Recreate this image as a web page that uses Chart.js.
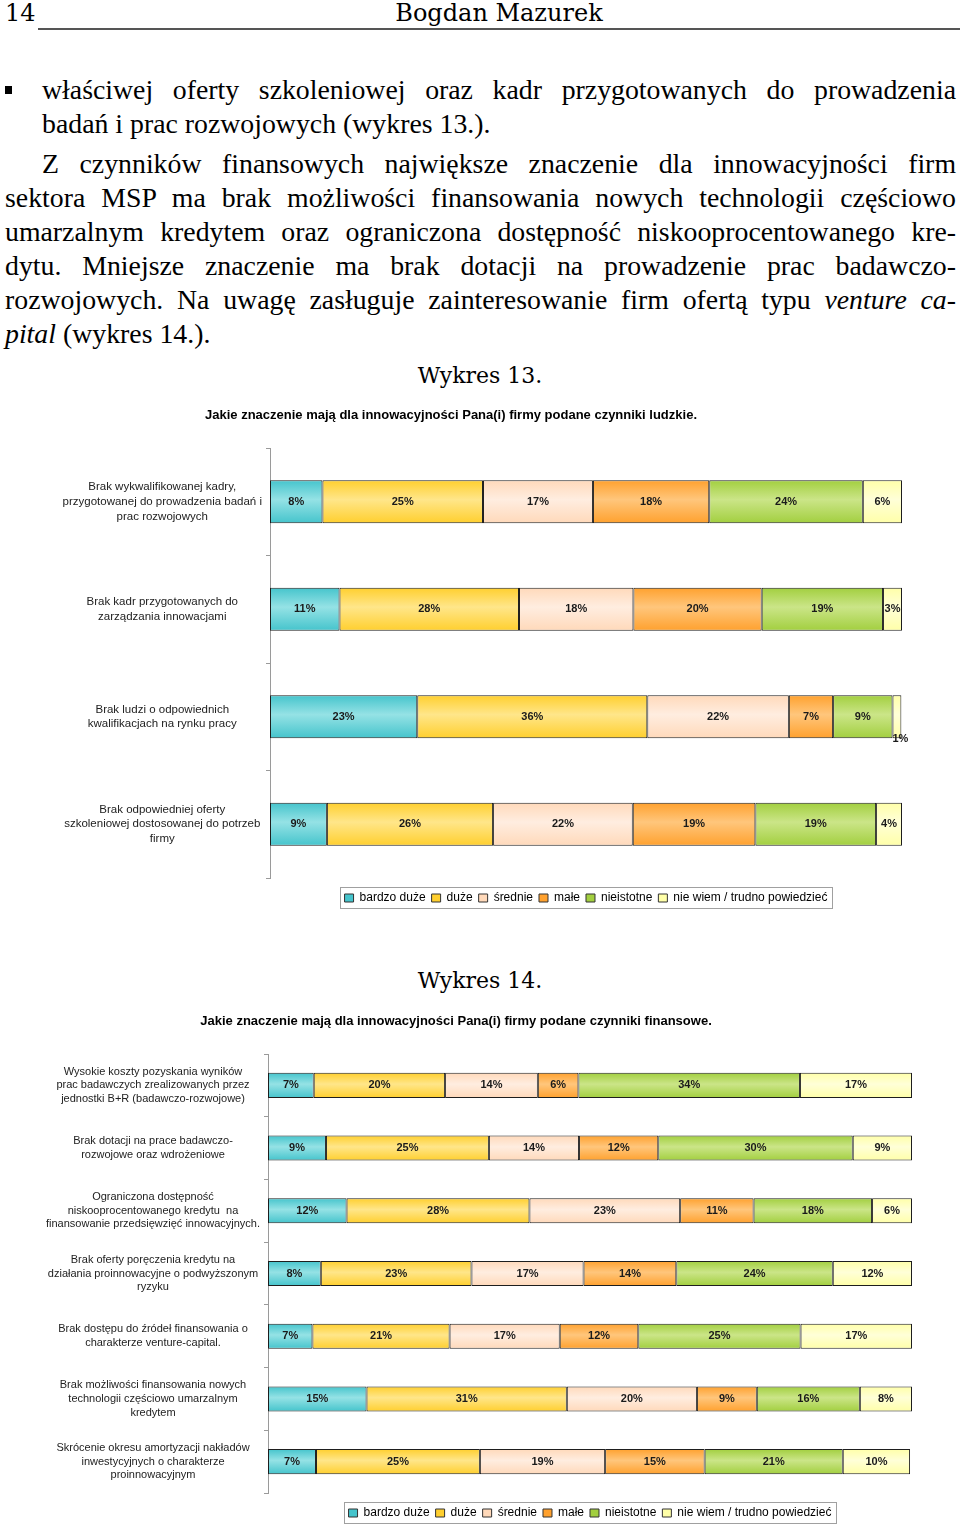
<!DOCTYPE html>
<html lang="pl">
<head>
<meta charset="utf-8">
<title>Wykres 13 i 14</title>
<script src="https://cdn.jsdelivr.net/npm/chart.js@4.4.1/dist/chart.umd.min.js"></script>
<style>
html, body { margin: 0; padding: 0; background: #fff; overflow: hidden; }
body { position: relative; width: 960px; height: 1525px; font-family: "DejaVu Serif", serif; color: #000; }
.head { position: absolute; top: -2px; font-size: 24px; line-height: 30px; }
.rule { position: absolute; left: 38px; top: 28px; width: 922px; height: 2px; background: #555; }
.line { position: absolute; font-family: "Liberation Serif", "Times New Roman", serif; font-size: 27.8px; line-height: 34px; height: 34px; white-space: nowrap; }
.just { text-align: justify; text-align-last: justify; }
.bullet { position: absolute; left: 5px; top: 86px; width: 7px; height: 8px; background: #000; }
.wykres { position: absolute; left: 0; width: 960px; text-align: center; font-size: 22px; line-height: 30px; }
canvas { position: absolute; left: 0; }
</style>
</head>
<body>

<div class="head" style="left:5px;">14</div>
<div class="head" style="left:38px; width:922px; text-align:center;">Bogdan Mazurek</div>
<div class="rule"></div>

<div class="bullet"></div>
<div class="line just" style="left:42px; width:914px; top:73px;">właściwej oferty szkoleniowej oraz kadr przygotowanych do prowadzenia</div>
<div class="line" style="left:42px; top:107px;">badań i prac rozwojowych (wykres 13.).</div>
<div class="line just" style="left:42px; width:914px; top:147px;">Z czynników finansowych największe znaczenie dla innowacyjności firm</div>
<div class="line just" style="left:5px; width:951px; top:181px;">sektora MSP ma brak możliwości finansowania nowych technologii częściowo</div>
<div class="line just" style="left:5px; width:951px; top:215px;">umarzalnym kredytem oraz ograniczona dostępność niskooprocentowanego kre-</div>
<div class="line just" style="left:5px; width:951px; top:249px;">dytu. Mniejsze znaczenie ma brak dotacji na prowadzenie prac badawczo-</div>
<div class="line just" style="left:5px; width:951px; top:283px;">rozwojowych. Na uwagę zasługuje zainteresowanie firm ofertą typu <i>venture ca-</i></div>
<div class="line" style="left:5px; top:317px;"><i>pital</i> (wykres 14.).</div>

<div class="wykres" style="top:361px;">Wykres 13.</div>
<canvas id="chartHuman" width="960" height="515" style="top:400px;"></canvas>

<div class="wykres" style="top:966px;">Wykres 14.</div>
<canvas id="chartFinance" width="960" height="524" style="top:1005px;"></canvas>

<script>
var seriesNames = ['bardzo duże', 'duże', 'średnie', 'małe', 'nieistotne', 'nie wiem / trudno powiedzieć'];
var seriesColors = ['#45C4CC', '#FFCF2E', '#FFD9BA', '#FFA12E', '#A2CF3F', '#FFFFA8'];
var seriesHighlights = ['#95E2E5', '#FFE68A', '#FFEDE0', '#FFC67C', '#CBE588', '#FFFFD8'];

// Wykres 13 - czynniki ludzkie
var humanCategories = [
    ['Brak wykwalifikowanej kadry,', 'przygotowanej do prowadzenia badań i', 'prac rozwojowych'],
    ['Brak kadr przygotowanych do', 'zarządzania innowacjami'],
    ['Brak ludzi o odpowiednich', 'kwalifikacjach na rynku pracy'],
    ['Brak odpowiedniej oferty', 'szkoleniowej dostosowanej do potrzeb', 'firmy']
];
var humanBardzoDuze = [8.3, 11.0, 23.3, 9.0];
var humanDuze = [25.4, 28.4, 36.4, 26.3];
var humanSrednie = [17.4, 18.1, 22.4, 22.1];
var humanMale = [18.4, 20.3, 7.0, 19.4];
var humanNieistotne = [24.3, 19.2, 9.4, 19.1];
var humanNieWiem = [6.2, 3.0, 1.4, 4.1];

// Wykres 14 - czynniki finansowe
var financeCategories = [
    ['Wysokie koszty pozyskania wyników', 'prac badawczych zrealizowanych przez', 'jednostki B+R (badawczo-rozwojowe)'],
    ['Brak dotacji na prace badawczo-', 'rozwojowe oraz wdrożeniowe'],
    ['Ograniczona dostępność', 'niskooprocentowanego kredytu  na', 'finansowanie przedsięwzięć innowacyjnych.'],
    ['Brak oferty poręczenia kredytu na', 'działania proinnowacyjne o podwyższonym', 'ryzyku'],
    ['Brak dostępu do źródeł finansowania o', 'charakterze venture-capital.'],
    ['Brak możliwości finansowania nowych', 'technologii częściowo umarzalnym', 'kredytem'],
    ['Skrócenie okresu amortyzacji nakładów', 'inwestycyjnych o charakterze', 'proinnowacyjnym']
];
var financeBardzoDuze = [7.1, 9.0, 12.2, 8.2, 6.9, 15.3, 7.45];
var financeDuze = [20.4, 25.3, 28.4, 23.4, 21.3, 31.1, 25.45];
var financeSrednie = [14.4, 14.0, 23.4, 17.4, 17.1, 20.2, 19.45];
var financeMale = [6.3, 12.3, 11.4, 14.4, 12.2, 9.3, 15.45];
var financeNieistotne = [34.4, 30.2, 18.4, 24.3, 25.2, 16.0, 21.45];
var financeNieWiem = [17.4, 9.2, 6.2, 12.3, 17.3, 8.1, 10.45];

var labelFont = '"Liberation Sans", Arial, sans-serif';

function barGradient(index) {
    return function(ctx) {
        var chart = ctx.chart;
        var yScale = chart.scales.y;
        if (ctx.type !== 'data' || !yScale || !yScale.height) {
            return seriesColors[index];
        }
        var center = yScale.getPixelForValue(ctx.dataIndex);
        var half = yScale.height / chart.data.labels.length * 0.2;
        var gradient = chart.ctx.createLinearGradient(0, center - half, 0, center + half);
        gradient.addColorStop(0, seriesColors[index]);
        gradient.addColorStop(0.45, seriesHighlights[index]);
        gradient.addColorStop(1, seriesColors[index]);
        return gradient;
    };
}

// percent labels inside the segments, tiny ones below the bar end
var segmentLabels = {
    id: 'segmentLabels',
    afterDatasetsDraw: function(chart) {
        var ctx = chart.ctx;
        ctx.save();
        ctx.font = 'bold 11px ' + labelFont;
        ctx.fillStyle = '#1a1a1a';
        ctx.textAlign = 'center';
        ctx.textBaseline = 'middle';
        chart.data.datasets.forEach(function(ds, i) {
            chart.getDatasetMeta(i).data.forEach(function(bar, j) {
                var value = ds.data[j];
                var text = Math.round(value) + '%';
                if (value < 2) {
                    ctx.fillText(text, bar.x - 1, bar.y + bar.height / 2 + 1);
                } else {
                    ctx.fillText(text, (bar.x + bar.base) / 2, bar.y);
                }
            });
        });
        ctx.restore();
    }
};

var legendFrame = {
    id: 'legendFrame',
    afterDraw: function(chart) {
        var boxes = chart.legend && chart.legend.legendHitBoxes;
        if (!boxes || !boxes.length) {
            return;
        }
        var first = boxes[0];
        var last = boxes[boxes.length - 1];
        var ctx = chart.ctx;
        ctx.save();
        ctx.strokeStyle = '#a0a0a0';
        ctx.lineWidth = 1;
        ctx.strokeRect(Math.round(first.left) - 4.5, Math.round(first.top) - 4.5,
            Math.round(last.left + last.width - first.left) + 9, first.height + 9);
        ctx.restore();
    }
};

function buildDatasets(seriesData) {
    return seriesData.map(function(values, i) {
        return {
            label: seriesNames[i],
            data: values,
            backgroundColor: barGradient(i),
            borderColor: '#1e1e1e',
            borderWidth: 1,
            borderSkipped: false,
            barPercentage: 0.4,
            categoryPercentage: 1
        };
    });
}

function loadChart(canvasId, title, categories, seriesData, opts) {
    var config = {
        type: 'bar',
        plugins: [segmentLabels, legendFrame],
        data: {
            labels: categories,
            datasets: buildDatasets(seriesData)
        },
        options: {
            indexAxis: 'y',
            responsive: false,
            animation: false,
            layout: {
                padding: { left: 0, right: opts.right, top: 0, bottom: opts.bottom }
            },
            plugins: {
                title: {
                    display: true,
                    text: title,
                    color: '#000',
                    font: { family: labelFont, size: 13, weight: 'bold' },
                    padding: { top: opts.titleTop, bottom: opts.titleBottom }
                },
                legend: {
                    position: 'bottom',
                    fullSize: false,
                    labels: {
                        color: '#000',
                        font: { family: labelFont, size: 12 },
                        boxWidth: 9,
                        boxHeight: 8,
                        padding: 6,
                        generateLabels: function(chart) {
                            return chart.data.datasets.map(function(ds, i) {
                                return {
                                    text: ds.label,
                                    fillStyle: seriesColors[i],
                                    strokeStyle: '#333',
                                    lineWidth: 1,
                                    hidden: false,
                                    datasetIndex: i
                                };
                            });
                        }
                    }
                },
                tooltip: { enabled: false }
            },
            scales: {
                x: {
                    stacked: true,
                    min: 0,
                    max: 100,
                    ticks: { display: false },
                    grid: { display: false },
                    border: { display: false },
                    afterFit: function(scale) {
                        scale.height = opts.gap;
                    }
                },
                y: {
                    stacked: true,
                    ticks: {
                        crossAlign: 'center',
                        padding: 4,
                        color: '#222',
                        font: { family: labelFont, size: opts.tickSize, lineHeight: opts.tickLine }
                    },
                    grid: {
                        drawOnChartArea: false,
                        drawTicks: true,
                        tickLength: 4,
                        color: '#9a9a9a'
                    },
                    border: { display: true, color: '#9a9a9a', width: 1 },
                    afterFit: function(scale) {
                        scale.width = opts.axisWidth;
                    }
                }
            }
        }
    };

    new Chart(document.getElementById(canvasId), config);
}

loadChart('chartHuman',
    'Jakie znaczenie mają dla innowacyjności Pana(i) firmy podane czynniki ludzkie.',
    humanCategories,
    [humanBardzoDuze, humanDuze, humanSrednie, humanMale, humanNieistotne, humanNieWiem],
    { right: 58, bottom: 1, gap: 8, titleTop: 8, titleBottom: 24.4, axisWidth: 270, tickSize: 11.5, tickLine: 1.28 });

loadChart('chartFinance',
    'Jakie znaczenie mają dla innowacyjności Pana(i) firmy podane czynniki finansowe.',
    financeCategories,
    [financeBardzoDuze, financeDuze, financeSrednie, financeMale, financeNieistotne, financeNieWiem],
    { right: 48, bottom: 0, gap: 8, titleTop: 8.2, titleBottom: 25.2, axisWidth: 268, tickSize: 11, tickLine: 1.24 });
</script>
</body>
</html>
